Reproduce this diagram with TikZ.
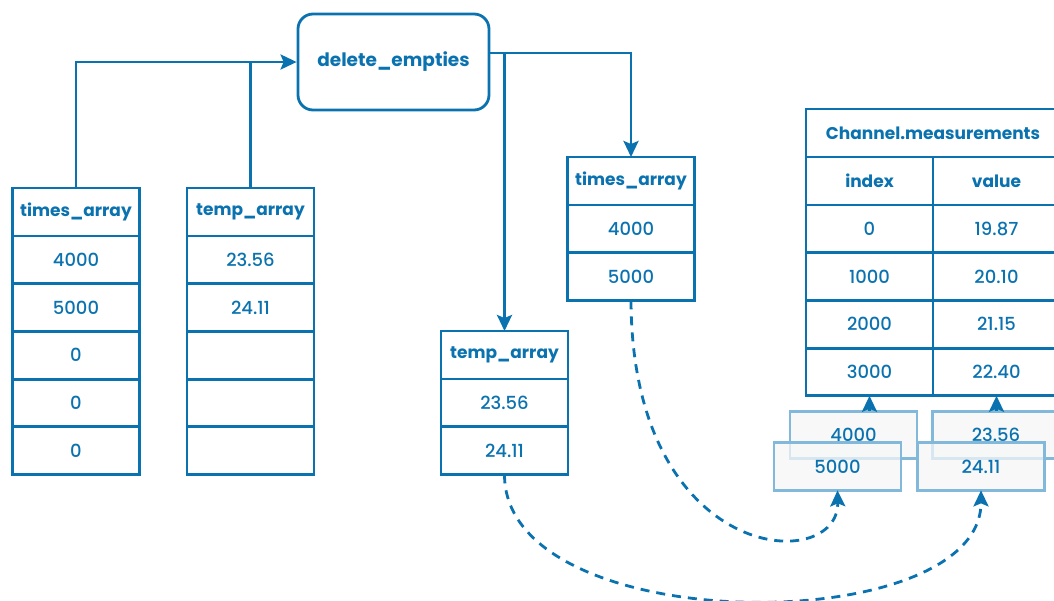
\documentclass[tikz,border=0pt]{standalone}
\usepackage{fontspec}
\setmainfont{Poppins}[UprightFont=* Medium, BoldFont=* Bold]
\usetikzlibrary{arrows.meta,positioning}

\definecolor{arrblue}{HTML}{0B72B0}
\definecolor{ghostline}{HTML}{82B9DA}
\definecolor{ghostfill}{HTML}{F5F6F7}

\tikzset{
  cell/.style={draw=arrblue, line width=2.8pt, outer sep=0pt, minimum width=127pt,
    minimum height=47.7pt, inner sep=0pt, text=arrblue, font=\fontsize{18}{18}\selectfont},
  headcell/.style={cell, minimum height=48pt, font=\bfseries\fontsize{17}{17}\selectfont},
  func/.style={draw=arrblue, line width=2.8pt, rounded corners=15pt, minimum width=191pt,
    minimum height=96pt, text=arrblue, font=\bfseries\fontsize{18.5}{18.5}\selectfont},
  ghost/.style={cell, draw=ghostline, fill=ghostfill, fill opacity=0.75, text opacity=1},
  flow/.style={draw=arrblue, line width=2.8pt, -{Stealth[length=16pt, width=15pt, inset=3pt]}},
  hop/.style={flow, dash pattern=on 9pt off 7pt}
}

\begin{document}
\begin{tikzpicture}[x=1pt,y=1pt]
\useasboundingbox (0,0) rectangle (1054,-600);

% the function
\node[func] (delete) at (393.5,-62) {delete\_empties};

% arrays before the call
\node[headcell] (times-0) at (76,-212) {times\_array};
\foreach \v [count=\i] in {4000,5000,0,0,0} {
  \pgfmathtruncatemacro\j{\i-1}
  \node[cell, below=0pt of times-\j] (times-\i) {\v};
}
\node[headcell] (temp-0) at (250.5,-212) {temp\_array};
\foreach \v [count=\i] in {23.56,24.11,,,} {
  \pgfmathtruncatemacro\j{\i-1}
  \node[cell, below=0pt of temp-\j] (temp-\i) {\v};
}

% arrays after the call
\node[headcell] (rtimes-0) at (631,-181) {times\_array};
\foreach \v [count=\i] in {4000,5000} {
  \pgfmathtruncatemacro\j{\i-1}
  \node[cell, below=0pt of rtimes-\j] (rtimes-\i) {\v};
}
\node[headcell] (rtemp-0) at (504.5,-355) {temp\_array};
\foreach \v [count=\i] in {23.56,24.11} {
  \pgfmathtruncatemacro\j{\i-1}
  \node[cell, below=0pt of rtemp-\j] (rtemp-\i) {\v};
}

% the channel table
\node[headcell, minimum width=254pt] (chan) at (933,-133) {Channel.measurements};
\node[headcell] (idx-0) at (869.5,-181) {index};
\node[headcell] (val-0) at (996.5,-181) {value};
\foreach \a/\b [count=\i] in {0/19.87,1000/20.10,2000/21.15,3000/22.40} {
  \pgfmathtruncatemacro\j{\i-1}
  \node[cell, below=0pt of idx-\j] (idx-\i) {\a};
  \node[cell, below=0pt of val-\j] (val-\i) {\b};
}

% rows to be appended
\node[ghost] (new-t1) at (853.5,-435) {4000};
\node[ghost] (new-t2) at (837.5,-466.5) {5000};
\node[ghost] (new-v1) at (996,-435) {23.56};
\node[ghost] (new-v2) at (981,-466.5) {24.11};

% into the function
\draw[flow] (times-0.north) |- (delete.west);
\draw[draw=arrblue, line width=2.8pt] (temp-0.north) -- (temp-0.north |- delete.west);

% out of the function
\coordinate (split) at (delete.east |- 0,-53);
\draw[flow] (split) -| (rtimes-0.north);
\draw[flow] (split -| rtemp-0.north) -- (rtemp-0.north);

% appended into the table
\draw[flow] (new-t1.north -| idx-4.south) -- (idx-4.south);
\draw[flow] (new-v1.north -| val-4.south) -- (val-4.south);
\draw[hop] (rtimes-2.south) .. controls (632,-565) and (839,-575) .. (new-t2.south);
\draw[hop] (rtemp-2.south) .. controls (504,-640) and (981,-640) .. (new-v2.south);
\end{tikzpicture}
\end{document}
